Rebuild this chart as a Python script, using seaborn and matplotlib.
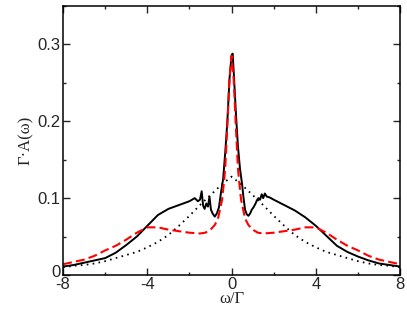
import matplotlib
matplotlib.use("Agg")
import matplotlib.pyplot as plt
import matplotlib.transforms as mtransforms
import seaborn as sns
import numpy as np
from matplotlib.ticker import MultipleLocator

# ---- data ----
omega_solid = [-8, -7.5, -7, -6.5, -6, -5.5, -5, -4.5, -4, -3.5, -3, -2.5, -2, -1.75, -1.6, -1.5,
               -1.42, -1.35, -1.28, -1.2, -1.12, -1.05, -0.98, -0.9, -0.8, -0.7, -0.6,
               -0.5, -0.4, -0.3, -0.2, -0.1, 0.0, 0.05, 0.1, 0.2, 0.3, 0.4, 0.5, 0.56,
               0.64, 0.72, 0.8, 0.88, 0.96, 1.04, 1.12, 1.2, 1.27, 1.35, 1.43, 1.5,
               1.58, 1.67, 1.8, 2.0, 2.5, 3.0, 3.5, 4.0, 4.5, 5.0, 5.5, 6.0, 6.5, 7.0,
               7.5, 8.0]
A_solid = [0.011, 0.013, 0.016, 0.019, 0.022, 0.029, 0.039, 0.050, 0.064, 0.078, 0.086, 0.091, 0.096,
           0.100, 0.096, 0.098, 0.109, 0.090, 0.086, 0.093, 0.089, 0.102, 0.085, 0.080,
           0.076, 0.080, 0.088, 0.108, 0.125, 0.160, 0.200, 0.255, 0.286, 0.288, 0.265,
           0.213, 0.168, 0.138, 0.118, 0.102, 0.085, 0.079, 0.077, 0.080, 0.085, 0.088,
           0.092, 0.097, 0.100, 0.098, 0.105, 0.100, 0.106, 0.102, 0.101, 0.098, 0.091,
           0.084, 0.075, 0.064, 0.051, 0.038, 0.030, 0.024, 0.019, 0.015, 0.013, 0.011]

omega_dash = [-8, -7.5, -7, -6.5, -6, -5.5, -5, -4.5, -4, -3.5, -3, -2.5, -2, -1.5,
              -1.25, -1.0, -0.8, -0.65, -0.55, -0.45, -0.35, -0.3, -0.2, -0.1, 0.0,
              0.1, 0.2, 0.3, 0.35, 0.45, 0.55, 0.65, 0.8, 1.0, 1.25, 1.5, 2.0, 2.5,
              3.0, 3.5, 4.0, 4.5, 5.0, 5.5, 6.0, 6.5, 7.0, 7.5, 8.0]
A_dash = [0.014, 0.017, 0.020, 0.025, 0.032, 0.038, 0.046, 0.055, 0.062, 0.062, 0.059,
          0.057, 0.055, 0.054, 0.055, 0.059, 0.065, 0.073, 0.085, 0.098, 0.124, 0.140,
          0.195, 0.255, 0.285, 0.255, 0.195, 0.140, 0.124, 0.098, 0.085, 0.073, 0.065,
          0.059, 0.055, 0.054, 0.055, 0.057, 0.059, 0.062, 0.062, 0.055, 0.046, 0.038,
          0.032, 0.025, 0.020, 0.017, 0.014]

omega_dot = [-8, -7.5, -7, -6.5, -6, -5.5, -5, -4.5, -4, -3.5, -3, -2.5, -2, -1.5, -1,
             -0.5, 0, 0.5, 1, 1.5, 2, 2.5, 3, 3.5, 4, 4.5, 5, 5.5, 6, 6.5, 7, 7.5, 8]
A_dot = [0.010, 0.012, 0.013, 0.015, 0.018, 0.022, 0.026, 0.030, 0.036, 0.043, 0.052,
         0.064, 0.077, 0.091, 0.104, 0.117, 0.128, 0.117, 0.104, 0.091, 0.077, 0.064,
         0.052, 0.043, 0.036, 0.030, 0.026, 0.022, 0.018, 0.015, 0.013, 0.012, 0.010]

x_ticks = [-8, -4, 0, 4, 8]
x_ticklabels = ["-8", "-4", "0", "4", "8"]
y_ticks = [0, 0.1, 0.2, 0.3]
y_ticklabels = ["0", "0.1", "0.2", "0.3"]

sns.set_style("ticks")
plt.rcParams["font.family"] = ["Liberation Sans", "DejaVu Sans"]

fig = plt.figure(figsize=(4.07, 3.15), dpi=100)
ax = fig.add_axes([0.155, 0.127, 0.828, 0.854])

sns.lineplot(x=omega_dot, y=A_dot, ax=ax, color="black", lw=1.3,
             linestyle=(0, (0.9, 2.4)), errorbar=None, sort=False)
sns.lineplot(x=omega_solid, y=A_solid, ax=ax, color="black", lw=1.4,
             errorbar=None, sort=False)
sns.lineplot(x=omega_dash, y=A_dash, ax=ax, color="#ff0000", lw=1.5,
             linestyle=(0, (4.3, 2.0)), errorbar=None, sort=False)

ax.set_xlim(-8, 8)
ax.set_ylim(0, 0.35)
ax.set_xticks(x_ticks)
ax.set_xticklabels(x_ticklabels)
ax.set_yticks(y_ticks)
ax.set_yticklabels(y_ticklabels)
ax.xaxis.set_minor_locator(MultipleLocator(2))
ax.yaxis.set_minor_locator(MultipleLocator(0.05))
ax.tick_params(which="both", direction="in", top=True, right=True, width=1.0)
ax.tick_params(which="major", length=5, labelsize=12)
ax.tick_params(axis="x", which="major", pad=1.5)
ax.tick_params(axis="y", which="major", pad=2)
ax.tick_params(which="minor", length=2.5)
for s in ax.spines.values():
    s.set_linewidth(1.1)
    s.set_color("black")

# nudge the y "0" label up slightly so it does not collide with "-8"
lbl0 = ax.get_yticklabels()[0]
lbl0.set_transform(lbl0.get_transform() +
                   mtransforms.ScaledTranslation(0, 3 / 72, fig.dpi_scale_trans))

ax.set_xlabel("ω/Γ", family=["Liberation Serif", "DejaVu Serif"], fontsize=12, labelpad=-1)
ax.set_ylabel("Γ·A(ω)", family=["Liberation Serif", "DejaVu Serif"], fontsize=12, labelpad=2)

fig.savefig("out.png", dpi=100)
